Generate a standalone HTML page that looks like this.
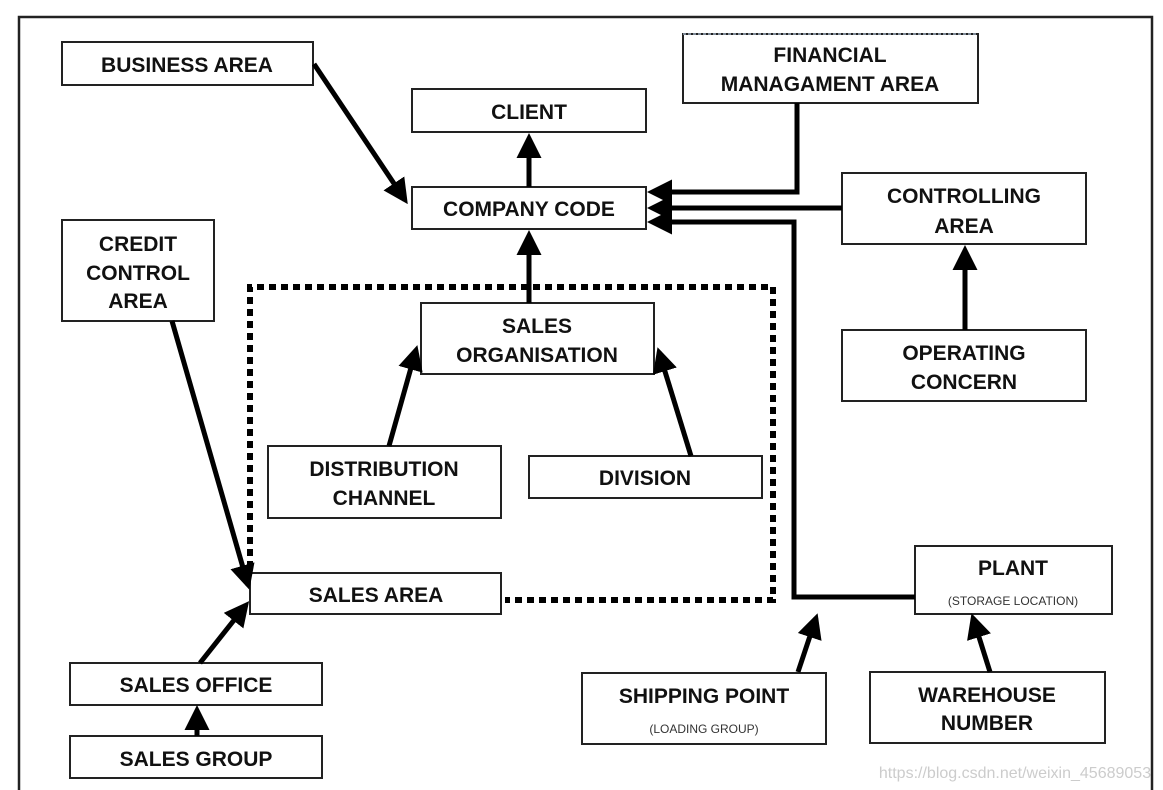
<!DOCTYPE html>
<html><head><meta charset="utf-8"><style>
html,body{margin:0;padding:0;background:#fff;}
svg{display:block}
text{font-family:"Liberation Sans",Arial,sans-serif;font-weight:bold;font-size:21px;fill:#111;text-anchor:middle}
.s{font-size:12px;font-weight:normal;fill:#333}
</style></head><body>
<svg width="1163" height="790" viewBox="0 0 1163 790" xmlns="http://www.w3.org/2000/svg">
<defs>
<marker id="a" markerWidth="5" markerHeight="5" refX="4" refY="2.5" orient="auto" markerUnits="strokeWidth">
<path d="M0,0 L5,2.5 L0,5 z" fill="#000"/></marker>
</defs>
<!-- frame -->
<path d="M19,790 V17 H1152 V790" fill="none" stroke="#222" stroke-width="2.5"/>
<!-- dotted region -->
<path d="M250,580 V287 H773 V600 H505" fill="none" stroke="#000" stroke-width="6" stroke-dasharray="7,5"/>
<g fill="#fff" stroke="#222" stroke-width="2">
<rect x="62" y="42" width="251" height="43"/>
<rect x="412" y="89" width="234" height="43"/>
<rect x="683" y="34" width="295" height="69"/>
<rect x="412" y="187" width="234" height="42"/>
<rect x="842" y="173" width="244" height="71"/>
<rect x="62" y="220" width="152" height="101"/>
<rect x="421" y="303" width="233" height="71"/>
<rect x="842" y="330" width="244" height="71"/>
<rect x="268" y="446" width="233" height="72"/>
<rect x="529" y="456" width="233" height="42"/>
<rect x="250" y="573" width="251" height="41"/>
<rect x="915" y="546" width="197" height="68"/>
<rect x="70" y="663" width="252" height="42"/>
<rect x="70" y="736" width="252" height="42"/>
<rect x="582" y="673" width="244" height="71"/>
<rect x="870" y="672" width="235" height="71"/>
</g>
<path d="M683,34 H978" stroke="#9ab" stroke-width="1.5" stroke-dasharray="3,2"/>
<g stroke="#000" stroke-width="5" fill="none">
<path d="M797,103 V192 H652" marker-end="url(#a)"/>
<path d="M842,208 H652" marker-end="url(#a)"/>
<path d="M915,597 H794 V222 H652" marker-end="url(#a)"/>
<path d="M314,64 L405,200" marker-end="url(#a)"/>
<path d="M529,187 V138" marker-end="url(#a)"/>
<path d="M529,303 V235" marker-end="url(#a)"/>
<path d="M965,330 V250" marker-end="url(#a)"/>
<path d="M389,446 L416,350" marker-end="url(#a)"/>
<path d="M691,456 L659,352" marker-end="url(#a)"/>
<path d="M172,321 L248,585" marker-end="url(#a)"/>
<path d="M200,663 L246,605" marker-end="url(#a)"/>
<path d="M197,736 V710" marker-end="url(#a)"/>
<path d="M798,672 L816,618" marker-end="url(#a)"/>
<path d="M990,672 L973,618" marker-end="url(#a)"/>
</g>
<text x="187" y="72">BUSINESS AREA</text>
<text x="529" y="119">CLIENT</text>
<text x="830" y="62">FINANCIAL</text>
<text x="830" y="91">MANAGAMENT AREA</text>
<text x="529" y="216">COMPANY CODE</text>
<text x="964" y="203">CONTROLLING</text>
<text x="964" y="233">AREA</text>
<text x="138" y="251">CREDIT</text>
<text x="138" y="280">CONTROL</text>
<text x="138" y="308">AREA</text>
<text x="537" y="333">SALES</text>
<text x="537" y="362">ORGANISATION</text>
<text x="964" y="360">OPERATING</text>
<text x="964" y="389">CONCERN</text>
<text x="384" y="476">DISTRIBUTION</text>
<text x="384" y="505">CHANNEL</text>
<text x="645" y="485">DIVISION</text>
<text x="376" y="602">SALES AREA</text>
<text x="1013" y="575">PLANT</text>
<text class="s" x="1013" y="605">(STORAGE LOCATION)</text>
<text x="196" y="692">SALES OFFICE</text>
<text x="196" y="766">SALES GROUP</text>
<text x="704" y="703">SHIPPING POINT</text>
<text class="s" x="704" y="733">(LOADING GROUP)</text>
<text x="987" y="702">WAREHOUSE</text>
<text x="987" y="730">NUMBER</text>
<text x="1015" y="778" style="font-weight:normal;font-size:16px;fill:#ccc">https://blog.csdn.net/weixin_45689053</text>
</svg>
</body></html>
